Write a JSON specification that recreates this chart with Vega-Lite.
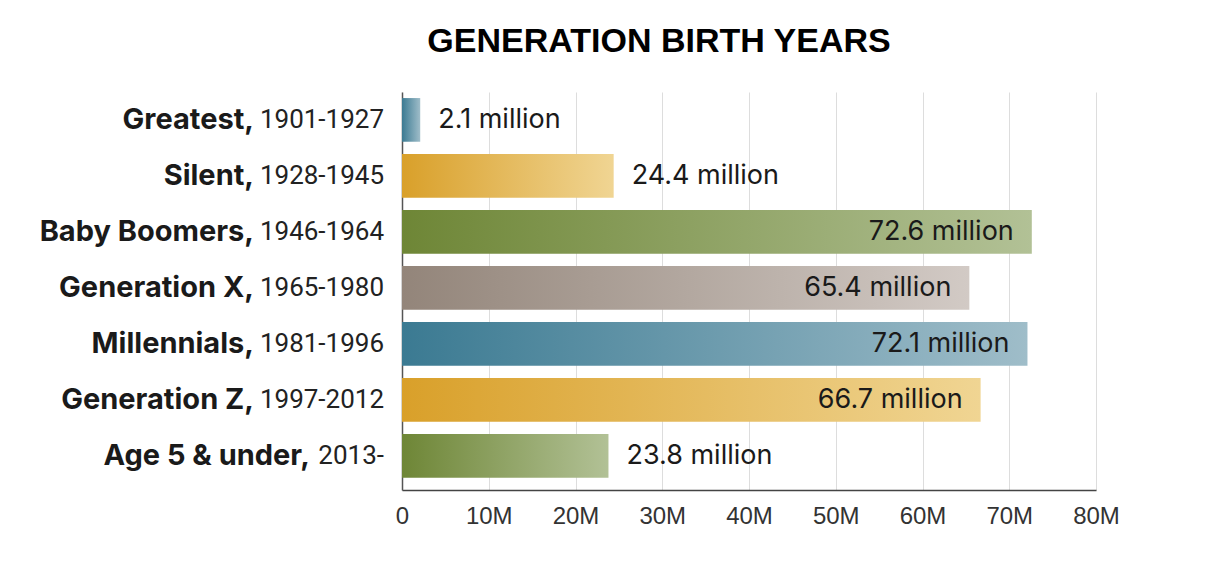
{
  "$schema": "https://vega.github.io/schema/vega-lite/v6.json",
  "autosize": {"type": "none"},
  "width": 694,
  "height": 398,
  "padding": {"left": 402, "top": 92, "right": 118, "bottom": 71},
  "background": "white",
  "title": {
    "text": "GENERATION BIRTH YEARS",
    "font": "Liberation Sans",
    "fontSize": 34,
    "fontWeight": "bold",
    "color": "#000000",
    "anchor": "middle",
    "dx": -90,
    "baseline": "alphabetic",
    "offset": 6
  },
  "config": {"view": {"stroke": null}},
  "data": {
    "values": [
      {"gen": "Greatest", "name": "Greatest,", "years": "1901-1927", "value": 2.1, "label": "2.1 million"},
      {"gen": "Silent", "name": "Silent,", "years": "1928-1945", "value": 24.4, "label": "24.4 million"},
      {"gen": "Baby Boomers", "name": "Baby Boomers,", "years": "1946-1964", "value": 72.6, "label": "72.6 million"},
      {"gen": "Generation X", "name": "Generation X,", "years": "1965-1980", "value": 65.4, "label": "65.4 million"},
      {"gen": "Millennials", "name": "Millennials,", "years": "1981-1996", "value": 72.1, "label": "72.1 million"},
      {"gen": "Generation Z", "name": "Generation Z,", "years": "1997-2012", "value": 66.7, "label": "66.7 million"},
      {"gen": "Age 5 & under", "name": "Age 5 & under,", "years": "2013-", "value": 23.8, "label": "23.8 million"}
    ]
  },
  "encoding": {
    "y": {
      "field": "gen",
      "type": "nominal",
      "sort": ["Greatest", "Silent", "Baby Boomers", "Generation X", "Millennials", "Generation Z", "Age 5 & under"],
      "scale": {"paddingInner": 0.22, "paddingOuter": 0.164, "align": 0.33},
      "axis": {"labels": false, "ticks": false, "domain": true, "domainColor": "#555555", "domainWidth": 1.5, "title": null, "grid": false}
    },
    "x": {
      "field": "value",
      "type": "quantitative",
      "scale": {"domain": [0, 80], "nice": false},
      "axis": {
        "values": [0, 10, 20, 30, 40, 50, 60, 70, 80],
        "labelExpr": "datum.value == 0 ? '0' : datum.value + 'M'",
        "labelFlush": false,
        "title": null,
        "grid": true,
        "gridColor": "#dddddd",
        "gridWidth": 1,
        "ticks": false,
        "domainColor": "#444444",
        "domainWidth": 1.5,
        "labelFont": "Liberation Sans",
        "labelFontSize": 24,
        "labelColor": "#333333",
        "labelPadding": 14
      }
    }
  },
  "layer": [
    {
      "transform": [{"filter": {"field": "gen", "oneOf": ["Greatest", "Millennials"]}}],
      "mark": {"type": "bar", "color": {"gradient": "linear", "x1": 0, "y1": 0, "x2": 1, "y2": 0, "stops": [{"offset": 0, "color": "#3b7a92"}, {"offset": 1, "color": "#9fbdc9"}]}}
    },
    {
      "transform": [{"filter": {"field": "gen", "oneOf": ["Silent", "Generation Z"]}}],
      "mark": {"type": "bar", "color": {"gradient": "linear", "x1": 0, "y1": 0, "x2": 1, "y2": 0, "stops": [{"offset": 0, "color": "#d9a02a"}, {"offset": 1, "color": "#f0d593"}]}}
    },
    {
      "transform": [{"filter": {"field": "gen", "oneOf": ["Baby Boomers", "Age 5 & under"]}}],
      "mark": {"type": "bar", "color": {"gradient": "linear", "x1": 0, "y1": 0, "x2": 1, "y2": 0, "stops": [{"offset": 0, "color": "#6e8636"}, {"offset": 1, "color": "#b2c196"}]}}
    },
    {
      "transform": [{"filter": {"field": "gen", "oneOf": ["Generation X"]}}],
      "mark": {"type": "bar", "color": {"gradient": "linear", "x1": 0, "y1": 0, "x2": 1, "y2": 0, "stops": [{"offset": 0, "color": "#93857a"}, {"offset": 1, "color": "#d2cac5"}]}}
    },
    {
      "transform": [{"filter": "datum.value < 50"}],
      "mark": {"type": "text", "align": "left", "baseline": "middle", "dx": 18, "font": "Inter", "fontSize": 27, "color": "#1a1a1a"},
      "encoding": {"text": {"field": "label"}}
    },
    {
      "transform": [{"filter": "datum.value >= 50"}],
      "mark": {"type": "text", "align": "right", "baseline": "middle", "dx": -18, "font": "Inter", "fontSize": 27, "color": "#1a1a1a"},
      "encoding": {"text": {"field": "label"}}
    },
    {
      "mark": {"type": "text", "align": "right", "baseline": "middle", "dx": -18, "font": "Roboto", "fontSize": 26, "color": "#222222"},
      "encoding": {"x": {"datum": 0}, "text": {"field": "years"}}
    },
    {
      "transform": [{"filter": "datum.gen != 'Age 5 & under'"}],
      "mark": {"type": "text", "align": "right", "baseline": "middle", "dx": -148, "font": "Inter", "fontSize": 29, "fontWeight": "bold", "color": "#1a1a1a"},
      "encoding": {"x": {"datum": 0}, "text": {"field": "name"}}
    },
    {
      "transform": [{"filter": "datum.gen == 'Age 5 & under'"}],
      "mark": {"type": "text", "align": "right", "baseline": "middle", "dx": -92, "font": "Inter", "fontSize": 29, "fontWeight": "bold", "color": "#1a1a1a"},
      "encoding": {"x": {"datum": 0}, "text": {"field": "name"}}
    }
  ]
}
